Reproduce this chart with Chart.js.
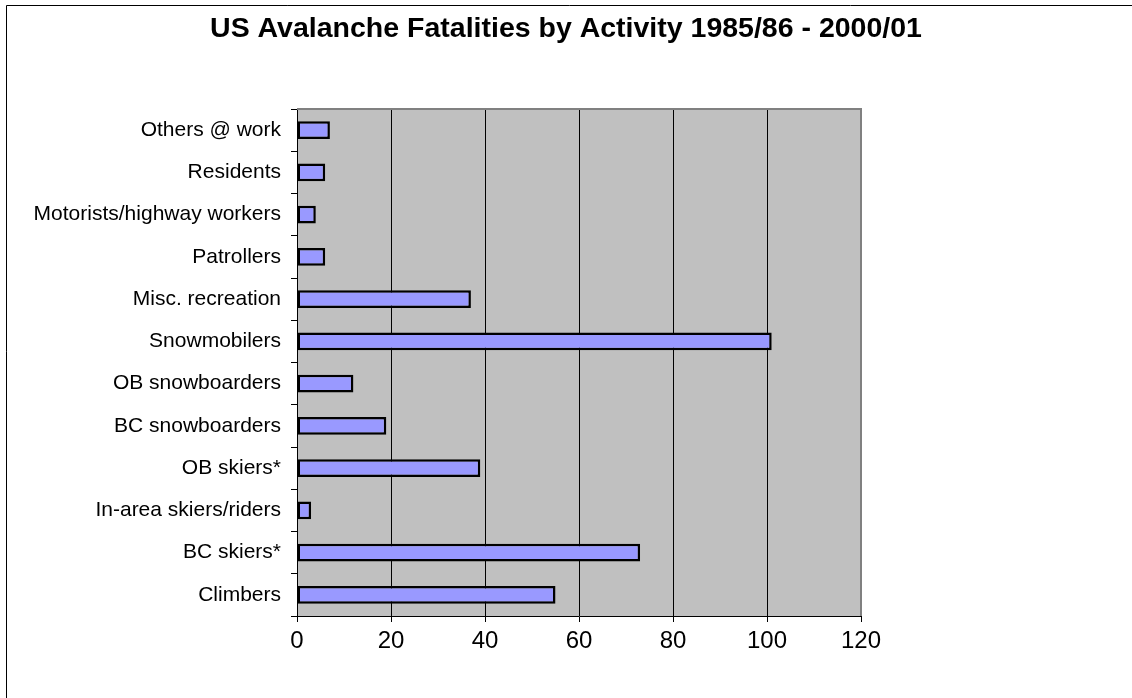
<!DOCTYPE html>
<html>
<head>
<meta charset="utf-8">
<script src="https://cdn.jsdelivr.net/npm/chart.js@4/dist/chart.umd.min.js"></script>
<style>
html,body{margin:0;padding:0;background:#fff;}
#wrap{width:1132px;height:698px;position:relative;}
</style>
</head>
<body>
<div id="wrap"><canvas id="c" width="1132" height="698"></canvas></div>
<script>
const chartTitle = "US Avalanche Fatalities by Activity 1985/86 - 2000/01";
const categories = ["Others @ work","Residents","Motorists/highway workers","Patrollers","Misc. recreation","Snowmobilers","OB snowboarders","BC snowboarders","OB skiers*","In-area skiers/riders","BC skiers*","Climbers"];
const fatalities = [7, 6, 4, 6, 37, 101, 12, 19, 39, 3, 73, 55];
const xTickValues = [0, 20, 40, 60, 80, 100, 120];

const FONT = "'Liberation Sans', Arial, sans-serif";

const decor = {
  id: 'decor',
  beforeDraw(chart) {
    const {ctx, chartArea: a} = chart;
    ctx.save();
    ctx.fillStyle = '#fff';
    ctx.fillRect(0, 0, chart.width, chart.height);
    // outer frame
    ctx.strokeStyle = '#000';
    ctx.lineWidth = 1;
    ctx.beginPath();
    ctx.moveTo(6.5, chart.height);
    ctx.lineTo(6.5, 5.5);
    ctx.lineTo(chart.width, 5.5);
    ctx.stroke();
    // plot background
    ctx.fillStyle = '#C0C0C0';
    ctx.fillRect(a.left, a.top, a.right - a.left, a.bottom - a.top);
    // title
    ctx.fillStyle = '#000';
    ctx.font = "bold 28.5px " + FONT;
    ctx.textAlign = 'center';
    ctx.textBaseline = 'middle';
    ctx.fillText(chartTitle, chart.width / 2, 29);
    ctx.restore();
  },
  afterDatasetsDraw(chart) {
    const {ctx, chartArea: a} = chart;
    ctx.save();
    ctx.strokeStyle = '#808080';
    ctx.lineWidth = 2;
    ctx.beginPath();
    ctx.moveTo(a.left, a.top);
    ctx.lineTo(a.right, a.top);
    ctx.lineTo(a.right, a.bottom);
    ctx.stroke();
    ctx.restore();
  }
};

new Chart(document.getElementById('c'), {
  type: 'bar',
  data: {
    labels: categories,
    datasets: [{
      data: fatalities,
      backgroundColor: '#9999FF',
      borderColor: '#000',
      borderWidth: 2.5,
      borderSkipped: false,
      barPercentage: 0.42,
      categoryPercentage: 1.0
    }]
  },
  options: {
    indexAxis: 'y',
    responsive: false,
    animation: false,
    layout: { padding: { left: 0, right: 271, top: 109, bottom: 0 } },
    plugins: {
      legend: { display: false },
      tooltip: { enabled: false },
      title: { display: false }
    },
    scales: {
      x: {
        min: 0, max: 120,
        afterBuildTicks(scale) { scale.ticks = xTickValues.map(v => ({value: v})); },
        afterFit(scale) { scale.height = 82; },
        grid: { color: '#000', lineWidth: 1, tickLength: 6, drawOnChartArea: true },
        border: { color: '#000', width: 1 },
        ticks: { color: '#000', font: { family: FONT, size: 24 }, padding: 5 }
      },
      y: {
        afterFit(scale) { scale.width = 297; },
        grid: { display: true, drawOnChartArea: false, color: '#000', tickLength: 6, offset: true },
        border: { color: '#000', width: 1 },
        ticks: { color: '#000', font: { family: FONT, size: 21 }, padding: 10, autoSkip: false }
      }
    }
  },
  plugins: [decor]
});
</script>
</body>
</html>
